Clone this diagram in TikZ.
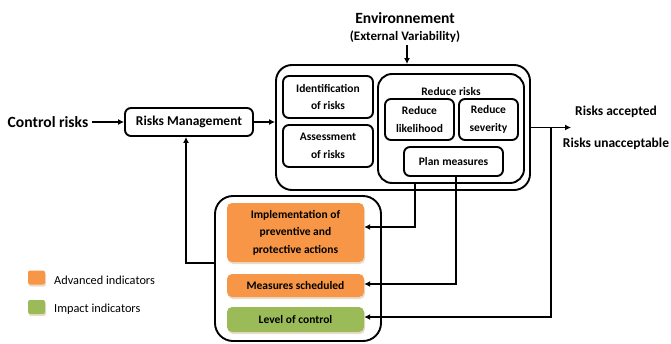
\documentclass[tikz,border=0pt]{standalone}
\usepackage{fontspec}
\setmainfont{Carlito}
\usetikzlibrary{arrows.meta,shadows}
\definecolor{advorange}{HTML}{F79646}
\definecolor{impgreen}{HTML}{9BBB59}
\definecolor{shade}{HTML}{EADCCB}

\begin{document}
\begin{tikzpicture}[
    x=1pt, y=-1pt,
    every node/.style={font=\bfseries\fontsize{11.5}{17.5}\selectfont, align=center, inner sep=0pt},
    box/.style={draw, line width=1.9pt, rounded corners=6pt},
    frame/.style={draw, line width=1.9pt, rounded corners=16pt},
    ind/.style={rounded corners=5pt, minimum width=137pt, drop shadow={shadow xshift=1pt, shadow yshift=-2pt, fill=shade, opacity=1}},
    advanced/.style={ind, fill=advorange},
    impact/.style={ind, fill=impgreen},
    legend/.style={rounded corners=2pt, minimum width=17pt, minimum height=14pt, drop shadow={shadow xshift=1pt, shadow yshift=-2pt, fill=shade, opacity=1}},
    legtext/.style={font=\fontsize{12.3}{14}\selectfont, anchor=west},
    large/.style={font=\bfseries\fontsize{15.6}{18}\selectfont},
    medium/.style={font=\bfseries\fontsize{13.5}{16}\selectfont},
    flow/.style={line width=1.9pt, -{Latex[length=6pt,width=6pt]}}
]
\useasboundingbox (0,0) rectangle (671,343);

\node[large] (ctrl) at (48,122) {Control risks};
\node[box, medium, minimum width=128pt, minimum height=28pt] (mgmt) at (189,122) {Risks Management};

\node[large] (env) at (405,18) {Environnement};
\node[font=\bfseries\fontsize{13}{16}\selectfont] (envsub) at (405,37) {(External Variability)};

\node[frame, minimum width=254pt, minimum height=125pt] (assess) at (403,127.5) {};
\node[box, minimum width=90pt, minimum height=42pt] (ident) at (328,97) {Identification\\of risks};
\node[box, minimum width=90pt, minimum height=42pt] (evalr) at (328,146) {Assessment\\of risks};
\node[frame, rounded corners=14pt, minimum width=146pt, minimum height=109pt] (reduce) at (451,128.5) {};
\node (redlbl) at (451,92) {Reduce risks};
\node[box, minimum width=69pt, minimum height=41pt] (likely) at (419.5,119.5) {Reduce\\likelihood};
\node[box, minimum width=59pt, minimum height=41pt] (sever) at (488.5,119.5) {Reduce\\severity};
\node[box, minimum width=99pt, minimum height=29pt] (plan) at (453.5,161.5) {Plan measures};

\node[medium] (acc) at (616,112) {Risks accepted};
\node[medium] (unacc) at (616,144) {Risks unacceptable};
\coordinate (split) at (551,127.5);
\coordinate (out) at (571,127.5);

\node[frame, rounded corners=18pt, minimum width=166pt, minimum height=145pt] (indic) at (298,268.5) {};
\node[advanced, minimum height=59pt] (impl) at (295.5,232.5) {Implementation of\\preventive and\\protective actions};
\node[advanced, minimum height=23pt] (sched) at (295.5,285.5) {Measures scheduled};
\node[impact, minimum height=25pt] (level) at (295.5,319.5) {Level of control};

\node[legend, fill=advorange] (advkey) at (36.5,277.5) {};
\node[legtext] (advtxt) at (54,280) {Advanced indicators};
\node[legend, fill=impgreen] (impkey) at (36.5,307) {};
\node[legtext] (imptxt) at (54,309) {Impact indicators};

\draw[flow] ([xshift=4pt]ctrl.east) -- (mgmt.west);
\draw[flow] (mgmt.east) -- (mgmt.east -| assess.west);
\draw[flow] ([xshift=2pt,yshift=-2pt]envsub.south) -- ([xshift=2pt]envsub.south |- assess.north);
\draw[flow] (assess.east) -- (out);
\draw[flow] (split) |- ([yshift=2.5pt]level.east);
\draw[flow] ([xshift=-36pt]reduce.south) |- ([yshift=5.5pt]impl.east);
\draw[flow] ([xshift=2.5pt]plan.south) |- ([yshift=1.5pt]sched.east);
\draw[flow] ([yshift=5.5pt]indic.west) -| ([xshift=-3pt]mgmt.south);
\end{tikzpicture}
\end{document}
